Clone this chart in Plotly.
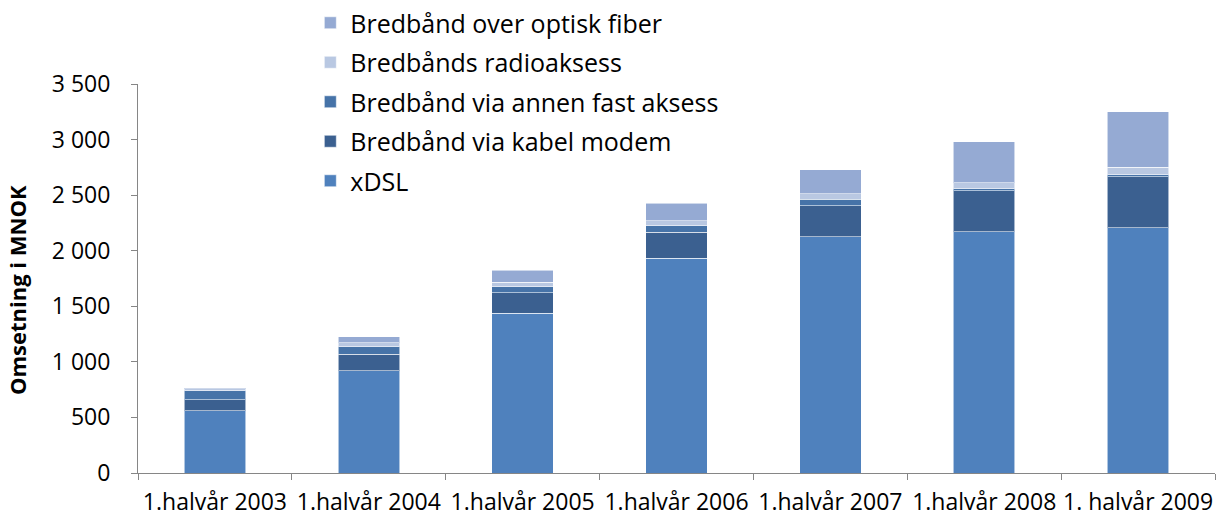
import plotly.graph_objects as go

# Omsetning bredbånd, 1. halvår (MNOK)
perioder = ['1.halvår 2003', '1.halvår 2004', '1.halvår 2005', '1.halvår 2006',
            '1.halvår 2007', '1.halvår 2008', '1. halvår 2009']

xdsl = [560, 921, 1437, 1932, 2124, 2169, 2205]
kabel = [100, 148, 185, 234, 282, 372, 462]
annen_fast = [80, 66, 54, 57, 57, 15, 15]
radio = [20, 36, 42, 45, 48, 54, 69]
fiber = [5, 54, 105, 159, 216, 372, 498]

serier = [
    ('xDSL', xdsl, '#4F81BD'),
    ('Bredbånd via kabel modem', kabel, '#3B6090'),
    ('Bredbånd via annen fast aksess', annen_fast, '#4673A8'),
    ('Bredbånds radioaksess', radio, '#B9C8E2'),
    ('Bredbånd over optisk fiber', fiber, '#95AAD3'),
]

fig = go.Figure()
for i, (navn, verdier, farge) in enumerate(serier):
    # fiber øverst i legenden, xDSL nederst
    fig.add_trace(go.Bar(x=perioder, y=verdier, name=navn, legendgroup=navn,
                         legendrank=len(serier) - i,
                         marker=dict(color=farge, line=dict(color='rgba(255,255,255,0.55)', width=1))))

fig.update_layout(
    barmode='stack',
    bargap=0.6,
    width=1216, height=524,
    margin=dict(l=138, r=1, t=84, b=51, autoexpand=False),
    plot_bgcolor='white',
    paper_bgcolor='white',
    separators=', ',
    font=dict(family='Open Sans, sans-serif', size=20, color='black'),
    legend=dict(
        x=0.16, xref='paper', y=1.0, yref='container', xanchor='left', yanchor='top',
        traceorder='reversed+grouped', tracegroupgap=4,
        font=dict(size=25), bgcolor='rgba(0,0,0,0)',
        itemwidth=30,
    ),
    xaxis=dict(
        showline=True, linecolor='#868686', linewidth=1,
        ticks='outside', tickson='boundaries', ticklen=6, tickcolor='#868686',
        showgrid=False, automargin=False, ticklabelstandoff=8,
        tickangle=0, tickfont=dict(size=23),
    ),
    yaxis=dict(
        range=[0, 3500], dtick=500, tickformat=',',
        showline=True, linecolor='#868686', linewidth=1,
        ticks='outside', ticklen=6, tickcolor='#868686',
        showgrid=False, zeroline=False, automargin=False,
        ticklabelstandoff=16, tickfont=dict(size=23),
    ),
)

# y-aksetittel som annotasjon for å treffe plasseringen
fig.add_annotation(
    text='<b>Omsetning i MNOK</b>', textangle=-90,
    xref='paper', yref='paper', x=-0.1125, y=0.47,
    xanchor='center', yanchor='middle', showarrow=False,
    font=dict(size=22),
)

fig.write_html('out.html', post_script="document.body.style.margin='0';",
               config={'displayModeBar': False})
